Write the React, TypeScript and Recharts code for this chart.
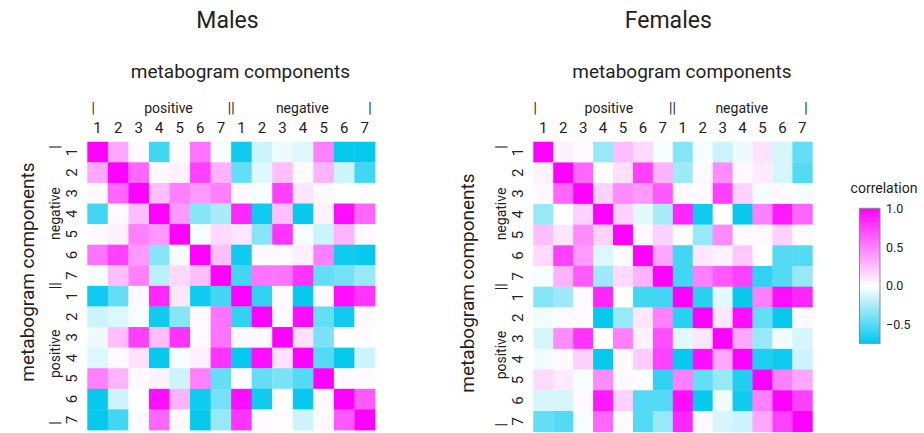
import { ScatterChart, Scatter, XAxis, YAxis } from 'recharts';

// labels
const components = ['1', '2', '3', '4', '5', '6', '7', '1', '2', '3', '4', '5', '6', '7'];
const topGroups = ['|', 'positive', '||', 'negative', '|'];
const sideGroups = ['|', 'negative', '||', 'positive', '|'];
const legendTicks = [1.0, 0.5, 0.0, -0.5];

// correlation matrices, rows/cols: positive 1-7 then negative 1-7
const males = [
  [1, 0.35, 0.02, -0.55, 0.02, 0.55, -0.03, -0.7, -0.15, -0.05, -0.1, 0.5, -0.72, -0.72],
  [0.35, 1, 0.6, 0.02, 0.05, 0.75, 0.3, -0.45, -0.1, 0.25, 0.02, 0.3, -0.15, -0.55],
  [0.02, 0.6, 1, 0.25, 0.5, 0.4, 0.5, 0.02, -0.03, 0.75, 0.1, 0.02, 0, 0.01],
  [-0.55, 0.02, 0.25, 1, 0.4, -0.35, -0.25, 0.85, -0.7, 0.25, -0.72, 0.05, 0.95, 0.6],
  [0.02, 0.05, 0.5, 0.4, 1, -0.03, 0.15, 0.1, -0.35, 0.8, -0.03, -0.15, 0.3, 0.02],
  [0.55, 0.75, 0.4, -0.35, -0.03, 1, 0.25, -0.7, 0.02, 0.02, 0.06, 0.5, -0.7, -0.72],
  [-0.03, 0.25, 0.5, -0.2, 0.15, 0.25, 1, -0.55, 0.55, 0.55, 0.8, -0.45, -0.4, -0.3],
  [-0.7, -0.45, 0.02, 0.85, 0.1, -0.7, -0.55, 1, -0.6, 0.02, -0.72, 0.02, 0.95, 0.8],
  [-0.15, -0.1, -0.03, -0.7, -0.35, 0.02, 0.55, -0.6, 1, 0.02, 0.95, -0.45, -0.7, 0.02],
  [-0.05, 0.25, 0.75, 0.25, 0.8, 0.02, 0.55, 0.02, 0.02, 1, 0.12, -0.38, 0, 0.01],
  [-0.1, 0.02, 0.12, -0.72, -0.03, 0.06, 0.8, -0.72, 0.95, 0.12, 1, -0.5, -0.72, -0.15],
  [0.5, 0.3, 0.02, 0.05, -0.15, 0.5, -0.45, 0.02, -0.45, -0.38, -0.5, 1, 0.02, 0.02],
  [-0.72, -0.15, 0, 0.95, 0.3, -0.7, -0.4, 0.95, -0.7, 0, -0.72, 0.02, 1, 0.65],
  [-0.72, -0.55, 0.02, 0.6, 0.02, -0.72, -0.3, 0.8, 0.02, 0.01, -0.15, 0.02, 0.65, 1],
];

const females = [
  [1, 0.05, 0.02, -0.3, 0.25, 0.15, -0.03, -0.35, -0.03, -0.15, -0.05, 0.12, -0.12, -0.45],
  [0.05, 1, 0.6, 0, 0.12, 0.75, 0.3, -0.28, 0.02, 0.45, 0.02, 0.08, -0.12, -0.5],
  [0.02, 0.6, 1, 0.18, 0.45, 0.4, 0.65, 0.02, 0.02, 0.75, 0.18, -0.03, 0.02, -0.03],
  [-0.3, 0, 0.18, 1, 0.18, -0.08, -0.25, 0.85, -0.7, 0, -0.72, 0.5, 0.9, 0.6],
  [0.25, 0.1, 0.45, 0.18, 1, 0.02, 0.18, 0, -0.3, 0.45, 0.02, 0.02, 0.18, 0.02],
  [0.15, 0.75, 0.4, -0.1, 0.02, 1, 0.35, -0.55, 0.1, 0.05, 0.22, 0, -0.5, -0.5],
  [-0.03, 0.3, 0.65, -0.28, 0.15, 0.3, 1, -0.55, 0.5, 0.65, 0.75, -0.6, -0.5, -0.3],
  [-0.35, -0.28, 0.02, 0.85, 0, -0.55, -0.55, 1, -0.62, -0.08, -0.72, 0.5, 0.95, 0.85],
  [-0.04, 0.02, 0.02, -0.72, -0.3, 0.1, 0.5, -0.62, 1, 0.1, 0.95, -0.45, -0.72, 0.02],
  [-0.12, 0.45, 0.8, 0, 0.5, 0.05, 0.7, -0.08, 0.1, 1, 0.35, -0.3, -0.04, -0.12],
  [-0.04, 0.02, 0.18, -0.72, 0.02, 0.2, 0.75, -0.72, 0.95, 0.35, 1, -0.65, -0.7, -0.15],
  [0.15, 0.08, -0.03, 0.45, 0.02, 0, -0.6, 0.5, -0.45, -0.3, -0.65, 1, 0.5, 0.35],
  [-0.12, -0.12, 0.02, 0.9, 0.18, -0.5, -0.5, 0.95, -0.72, -0.04, -0.7, 0.5, 1, 0.75],
  [-0.45, -0.5, -0.03, 0.6, 0.02, -0.5, -0.3, 0.85, 0.02, -0.12, -0.15, 0.35, 0.75, 1],
];

const LOW = -0.74;
const FONT = 'Roboto, "Noto Sans", sans-serif';
const TEXT = '#222';

function colour(v: number) {
  if (v >= 0) {
    const t = Math.min(v, 1);
    return `rgb(255,${Math.round(255 * (1 - t))},255)`;
  }
  const t = Math.min(v / LOW, 1);
  return `rgb(${Math.round(255 * (1 - t))},${Math.round(255 - 55 * t)},${Math.round(255 - 17 * t)})`;
}

const centers = components.map((_, i) => i + 0.5);

function toCells(m: number[][]) {
  return m.flatMap((row, i) => row.map((v, j) => ({ x: j + 0.5, y: i + 0.5, v })));
}

interface HeatProps {
  matrix: number[][];
  left: number;
  width: number;
  margin: { top: number; right: number; bottom: number; left: number };
  topPos: number[];
  sidePos: number[];
  title: string;
  titleX: number;
  subX: number;
  sideX: number;
  sideY: number;
}

function Heatmap({ matrix, left, width, margin, topPos, sidePos, title, titleX, subX, sideX, sideY }: HeatProps) {
  const height = 433;
  const plotW = width - margin.left - margin.right - 36;
  const plotH = height - margin.top - margin.bottom - 44;
  const cw = plotW / 14;
  const ch = plotH / 14;
  const cells = toCells(matrix);

  const numTop = (p: any) => (
    <text x={p.x} y={p.y - 12} textAnchor="middle" dominantBaseline="central" fontSize={15} fill={TEXT} fontFamily={FONT}>
      {components[Math.floor(p.payload.value)]}
    </text>
  );
  const grpTop = (p: any) => (
    <text x={p.x} y={p.y - 10} textAnchor="middle" dominantBaseline="central" fontSize={14} fill={TEXT} fontFamily={FONT}>
      {topGroups[p.index]}
    </text>
  );
  const numSide = (p: any) => (
    <text x={p.x - 13} y={p.y} transform={`rotate(-90 ${p.x - 13} ${p.y})`} textAnchor="middle" dominantBaseline="central" fontSize={15} fill={TEXT} fontFamily={FONT}>
      {components[Math.floor(p.payload.value)]}
    </text>
  );
  const grpSide = (p: any) => (
    <text x={p.x - 16} y={p.y} transform={`rotate(-90 ${p.x - 16} ${p.y})`} textAnchor="middle" dominantBaseline="central" fontSize={14} fill={TEXT} fontFamily={FONT}>
      {sideGroups[p.index]}
    </text>
  );

  return (
    <div style={{ position: 'absolute', left, top: 0, width, height }}>
      <div style={{ position: 'absolute', left: titleX - left - 100, top: 7, width: 200, textAlign: 'center', fontSize: 23, fontFamily: FONT, color: TEXT }}>
        {title}
      </div>
      <div style={{ position: 'absolute', left: subX - left - 150, top: 60, width: 300, textAlign: 'center', fontSize: 19, fontFamily: FONT, color: TEXT }}>
        metabogram components
      </div>
      <div style={{ position: 'absolute', left: sideX - left - 150, top: sideY - 13, width: 300, textAlign: 'center', fontSize: 19, fontFamily: FONT, color: TEXT, transform: 'rotate(-90deg)', lineHeight: '26px' }}>
        metabogram components
      </div>
      <div style={{ position: 'absolute', left: 0, top: 0 }}>
        <ScatterChart width={width} height={height} margin={margin}>
          <XAxis xAxisId="a" orientation="top" type="number" dataKey="x" domain={[0, 14]} ticks={centers} interval={0} height={22} axisLine={false} tickLine={false} tickSize={0} tick={numTop} />
          <XAxis xAxisId="b" orientation="top" type="number" dataKey="x" domain={[0, 14]} ticks={topPos} interval={0} height={22} axisLine={false} tickLine={false} tickSize={0} tick={grpTop} />
          <YAxis yAxisId="a" orientation="left" type="number" dataKey="y" domain={[0, 14]} reversed ticks={centers} interval={0} width={14} axisLine={false} tickLine={false} tickSize={0} tick={numSide} />
          <YAxis yAxisId="b" orientation="left" type="number" dataKey="y" domain={[0, 14]} reversed ticks={sidePos} interval={0} width={22} axisLine={false} tickLine={false} tickSize={0} tick={grpSide} />
          <Scatter
            xAxisId="a"
            yAxisId="a"
            data={cells}
            isAnimationActive={false}
            shape={(p: any) => (
              <rect x={p.cx - cw / 2} y={p.cy - ch / 2} width={cw + 0.4} height={ch + 0.4} fill={colour(p.payload.v)} />
            )}
          />
          <Scatter xAxisId="b" yAxisId="b" data={cells} isAnimationActive={false} shape={() => <g />} />
        </ScatterChart>
      </div>
    </div>
  );
}

function ColourLegend() {
  const top = 208.3;
  const bottom = 343.3;
  const span = bottom - top;
  const yOf = (v: number) => top + ((1 - v) / (1 - LOW)) * span;
  const stops = [1, 0.75, 0.5, 0.25, 0, -0.25, -0.5, LOW];
  return (
    <svg style={{ position: 'absolute', left: 0, top: 0 }} width={924} height={433}>
      <defs>
        <linearGradient id="corr" x1="0" y1="0" x2="0" y2="1">
          {stops.map((s) => (
            <stop key={s} offset={(1 - s) / (1 - LOW)} stopColor={colour(s)} />
          ))}
        </linearGradient>
      </defs>
      <text x={884} y={188} textAnchor="middle" dominantBaseline="central" fontSize={14} fill={TEXT} fontFamily={FONT}>
        correlation
      </text>
      <rect x={859.5} y={top} width={20.5} height={span} fill="url(#corr)" stroke="#888" strokeWidth={1} />
      {legendTicks.map((t) => (
        <text key={t} x={886} y={yOf(t)} dominantBaseline="central" fontSize={12.5} fill={TEXT} fontFamily={FONT}>
          {t < 0 ? `\u2212${Math.abs(t).toFixed(1)}` : t.toFixed(1)}
        </text>
      ))}
    </svg>
  );
}

export default function App() {
  return (
    <div style={{ position: 'absolute', left: 0, top: 0, width: 924, height: 433, background: '#fff', overflow: 'hidden' }}>
      <Heatmap
        matrix={males}
        left={0}
        width={400}
        margin={{ top: 97.7, right: 25, bottom: 3, left: 51.3 }}
        topPos={[0.29, 3.95, 7, 10.46, 13.76]}
        sidePos={[0.26, 3.49, 7, 10.3, 13.66]}
        title="Males"
        titleX={227.5}
        subX={240.5}
        sideX={27.5}
        sideY={271.5}
      />
      <Heatmap
        matrix={females}
        left={444}
        width={400}
        margin={{ top: 97.7, right: 31.7, bottom: 1.3, left: 53.3 }}
        topPos={[0.1, 3.79, 6.98, 10.46, 13.68]}
        sidePos={[0.26, 3.49, 7, 10.3, 13.66]}
        title="Females"
        titleX={668.3}
        subX={682}
        sideX={468}
        sideY={282.5}
      />
      <ColourLegend />
    </div>
  );
}
